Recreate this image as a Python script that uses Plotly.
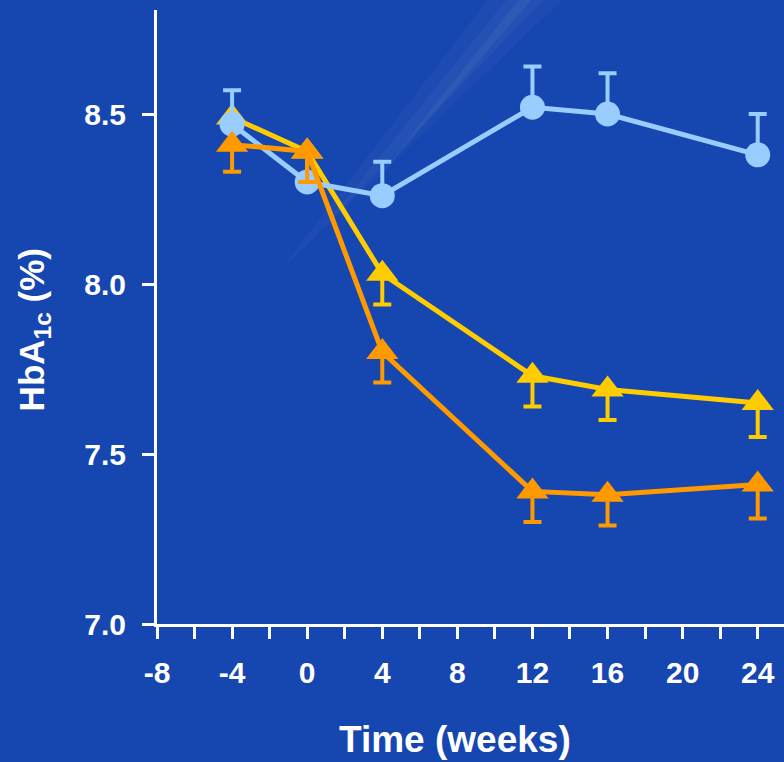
import plotly.graph_objects as go

weeks = [-4, 0, 4, 12, 16, 24]

blue_vals = [8.47, 8.30, 8.26, 8.52, 8.50, 8.38]
blue_err_up = [0.10, 0.09, 0.10, 0.12, 0.12, 0.12]

yellow_vals = [8.49, 8.39, 8.03, 7.73, 7.69, 7.65]
yellow_err_down = [0.08, 0.09, 0.09, 0.09, 0.09, 0.10]

orange_vals = [8.41, 8.39, 7.80, 7.39, 7.38, 7.41]
orange_err_down = [0.08, 0.09, 0.09, 0.09, 0.09, 0.10]

x_tickvals = [-8, -4, 0, 4, 8, 12, 16, 20, 24]
y_tickvals = [7.0, 7.5, 8.0, 8.5]
y_ticktext = ["7.0", "7.5", "8.0", "8.5"]

BG = "#1646B0"
LIGHT_BLUE = "#99CCFF"
YELLOW = "#FFCC00"
ORANGE = "#FF9900"
FONT = "Liberation Sans, Arial, sans-serif"

fig = go.Figure()

fig.add_trace(go.Scatter(
    x=weeks, y=yellow_vals, mode="lines+markers",
    line=dict(color=YELLOW, width=5),
    marker=dict(symbol="triangle-up", size=28, color=YELLOW),
    error_y=dict(type="data", symmetric=False, array=[0]*6, arrayminus=yellow_err_down,
                 color=YELLOW, thickness=4, width=9),
    showlegend=False,
))

fig.add_trace(go.Scatter(
    x=weeks, y=blue_vals, mode="lines+markers",
    line=dict(color=LIGHT_BLUE, width=5),
    marker=dict(symbol="circle", size=25, color=LIGHT_BLUE),
    error_y=dict(type="data", symmetric=False, array=blue_err_up, arrayminus=[0]*6,
                 color=LIGHT_BLUE, thickness=4, width=9),
    showlegend=False,
))

fig.add_trace(go.Scatter(
    x=weeks, y=orange_vals, mode="lines+markers",
    line=dict(color=ORANGE, width=5),
    marker=dict(symbol="triangle-up", size=28, color=ORANGE),
    error_y=dict(type="data", symmetric=False, array=[0]*6, arrayminus=orange_err_down,
                 color=ORANGE, thickness=4, width=9),
    showlegend=False,
))

# subtle diagonal light streak in the background (tapering, layered for a soft fade)
fig.add_shape(type="path", xref="paper", yref="paper", layer="below",
              path="M 0.530 1.02 L 0.650 1.02 L 0.200 0.58 Z",
              fillcolor="rgba(255,255,255,0.03)", line=dict(width=0))
fig.add_shape(type="path", xref="paper", yref="paper", layer="below",
              path="M 0.560 1.02 L 0.620 1.02 L 0.260 0.64 Z",
              fillcolor="rgba(255,255,255,0.035)", line=dict(width=0))
fig.add_shape(type="path", xref="paper", yref="paper", layer="below",
              path="M 0.580 1.02 L 0.600 1.02 L 0.330 0.70 Z",
              fillcolor="rgba(255,255,255,0.05)", line=dict(width=0))

fig.update_layout(
    width=784, height=762,
    paper_bgcolor=BG, plot_bgcolor=BG,
    margin=dict(l=157, r=0, t=10, b=138),
    font=dict(family=FONT, color="white"),
    xaxis=dict(
        range=[-8, 25.4], tickvals=x_tickvals, ticktext=[str(v) for v in x_tickvals],
        showgrid=False, zeroline=False, showline=True, linecolor="white", linewidth=3,
        ticks="", tickfont=dict(size=30, color="white", family=FONT, weight="bold"),
        ticklabelstandoff=20,
        minor=dict(dtick=2, tick0=-8, ticks="outside", ticklen=12, tickwidth=3, tickcolor="white", showgrid=False),
    ),
    yaxis=dict(
        range=[7.0, 8.806], tickvals=y_tickvals, ticktext=y_ticktext,
        showgrid=False, zeroline=False, showline=True, linecolor="white", linewidth=3,
        ticks="outside", ticklen=12, tickwidth=3, tickcolor="white",
        tickfont=dict(size=30, color="white", family=FONT, weight="bold"),
        ticklabelstandoff=10,
    ),
    annotations=[
        dict(text="Time (weeks)", xref="paper", yref="paper", x=0.476, y=-0.188,
             xanchor="center", yanchor="middle", showarrow=False,
             font=dict(size=37, color="white", family=FONT, weight="bold")),
        dict(text="HbA<sub>1c</sub> (%)", xref="paper", yref="paper", x=-0.197, y=0.479,
             xanchor="center", yanchor="middle", showarrow=False, textangle=-90,
             font=dict(size=35, color="white", family=FONT, weight="bold")),
    ],
)

fig.write_html("out.html", config={"displayModeBar": False},
               post_script="document.body.style.margin='0';document.body.style.overflow='hidden';")
